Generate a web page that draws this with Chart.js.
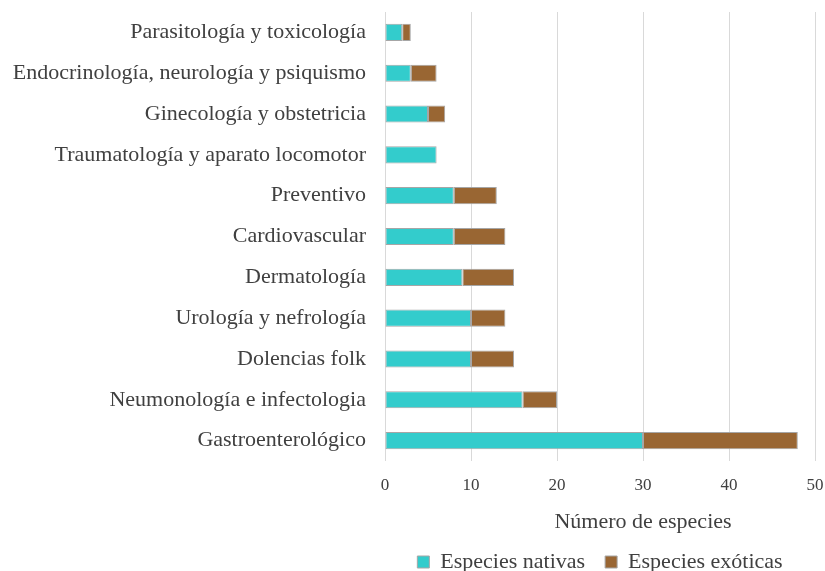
<!DOCTYPE html>
<html lang="es">
<head>
<meta charset="UTF-8" />
<title>Número de especies</title>
<script src="https://cdn.jsdelivr.net/npm/chart.js@4.4.0/dist/chart.umd.min.js"></script>
<style>
  html, body { margin: 0; padding: 0; background: #fff; }
  #wrap { width: 825px; height: 571px; }
</style>
</head>
<body>
<div id="wrap"><canvas id="chart" width="825" height="571"></canvas></div>
<script>
// datos
const categorias = [
  "Parasitología y toxicología",
  "Endocrinología, neurología y psiquismo",
  "Ginecología y obstetricia",
  "Traumatología y aparato locomotor",
  "Preventivo",
  "Cardiovascular",
  "Dermatología",
  "Urología y nefrología",
  "Dolencias folk",
  "Neumonología e infectologia",
  "Gastroenterológico"
];
const nativas = [2, 3, 5, 6, 8, 8, 9, 10, 10, 16, 30];
const exoticas = [1, 3, 2, 0, 5, 6, 6, 4, 5, 4, 18];
const ticksX = [0, 10, 20, 30, 40, 50];
const tituloX = "Número de especies";

const serif = "'Liberation Serif', 'Times New Roman', serif";

// título del eje x dibujado a mano (va desplazado a la derecha)
const tituloPlugin = {
  id: "tituloX",
  afterDraw(chart) {
    const { ctx, chartArea } = chart;
    ctx.save();
    ctx.font = "22px " + serif;
    ctx.fillStyle = "#404040";
    ctx.textAlign = "center";
    ctx.textBaseline = "middle";
    ctx.fillText(tituloX, (chartArea.left + chartArea.right) / 2 + 43, 522);
    ctx.restore();
  }
};

new Chart(document.getElementById("chart"), {
  type: "bar",
  data: {
    labels: categorias,
    datasets: [
      {
        label: "Especies nativas",
        data: nativas,
        backgroundColor: "#33cccc",
        borderColor: "#a6a6a6",
        borderWidth: 1,
        borderSkipped: false
      },
      {
        label: "Especies exóticas",
        data: exoticas,
        backgroundColor: "#996633",
        borderColor: "#a6a6a6",
        borderWidth: 1,
        borderSkipped: false
      }
    ]
  },
  options: {
    indexAxis: "y",
    responsive: false,
    animation: false,
    layout: { padding: { top: 12, right: 10, bottom: -12, left: 0 } },
    datasets: { bar: { categoryPercentage: 1, barPercentage: 0.42 } },
    plugins: {
      legend: {
        position: "bottom",
        fullSize: false,
        labels: {
          font: { family: serif, size: 22 },
          color: "#404040",
          boxWidth: 12,
          boxHeight: 12,
          padding: 20
        }
      },
      tooltip: { enabled: false }
    },
    scales: {
      x: {
        stacked: true,
        min: 0,
        max: 50,
        afterBuildTicks(scale) {
          scale.ticks = ticksX.map(v => ({ value: v }));
        },
        afterFit(scale) {
          scale.height = 70;
          scale.paddingLeft = 0;
          scale.paddingRight = 0;
        },
        grid: { color: "#d9d9d9", drawTicks: false },
        border: { display: false },
        ticks: {
          font: { family: serif, size: 17 },
          color: "#404040",
          padding: 14
        }
      },
      y: {
        stacked: true,
        afterFit(scale) {
          scale.width = 385;
          scale.paddingTop = 0;
          scale.paddingBottom = 0;
        },
        grid: { display: false },
        border: { display: false },
        ticks: {
          font: { family: serif, size: 22 },
          color: "#404040",
          padding: 11
        }
      }
    }
  },
  plugins: [tituloPlugin]
});
</script>
</body>
</html>
